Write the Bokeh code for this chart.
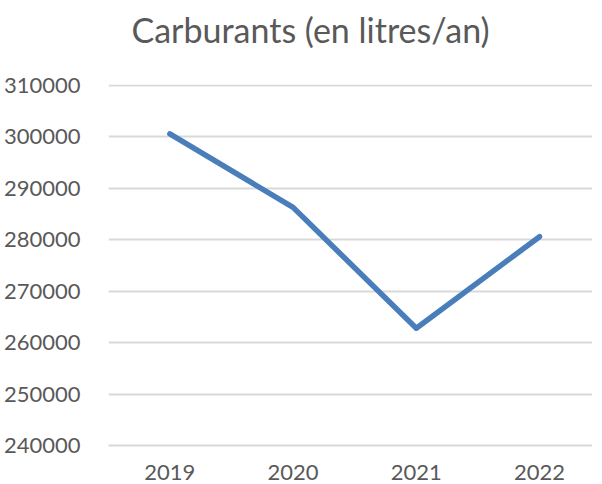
from bokeh.plotting import figure
from bokeh.models import ColumnDataSource, FixedTicker, Range1d, Title
from bokeh.embed import file_html
from bokeh.resources import INLINE

years = ["2019", "2020", "2021", "2022"]
values = [300600, 286300, 262800, 280600]
y_ticks = [240000, 250000, 260000, 270000, 280000, 290000, 300000, 310000]

FONT = "Lato"
GRAY = "#595959"
GRID = "#D9D9D9"

idx = list(range(len(years)))
src = ColumnDataSource(dict(x=idx, y=values))

p = figure(width=592, height=484, output_backend="svg", toolbar_location=None,
           x_range=Range1d(-0.498, 3.43), y_range=Range1d(240000, 310200),
           min_border_left=96, min_border_right=0, min_border_top=84, min_border_bottom=39)

p.title.text = "Carburants (en litres/an)"
p.title.text_font = FONT
p.title.text_font_size = "34px"
p.title.text_font_style = "normal"
p.title.text_color = GRAY
p.title.align = "left"
p.title.offset = 23
p.title.vertical_align = "bottom"
p.title.standoff = 8

p.line("x", "y", source=src, line_color="#4A7EBB", line_width=5.5,
       line_cap="round", line_join="round")

p.outline_line_color = None
p.background_fill_color = "white"
p.border_fill_color = "white"

ya = p.left[0]
ya.ticker = FixedTicker(ticks=y_ticks)
ya.major_label_overrides = {t: str(t) for t in y_ticks}
ya.axis_line_color = None
ya.major_tick_line_color = None
ya.minor_tick_line_color = None
ya.major_label_text_font = FONT
ya.major_label_text_font_size = "22px"
ya.major_label_text_color = GRAY
ya.major_label_standoff = 22

xa = p.below[0]
xa.ticker = FixedTicker(ticks=idx)
xa.major_label_overrides = {i: y for i, y in zip(idx, years)}
xa.axis_line_color = GRID
xa.axis_line_width = 1.8
xa.major_tick_line_color = None
xa.minor_tick_line_color = None
xa.major_label_text_font = FONT
xa.major_label_text_font_size = "22px"
xa.major_label_text_color = GRAY
xa.major_label_standoff = 13

# blank spacer panel between the title and the plot area
spacer = Title(text=" ", text_font_size="2px", text_color="white", standoff=27)
p.add_layout(spacer, "above")

p.xgrid.grid_line_color = None
p.ygrid.grid_line_color = GRID
p.ygrid.grid_line_width = 1.8

open("out.html", "w").write(file_html(p, INLINE))
